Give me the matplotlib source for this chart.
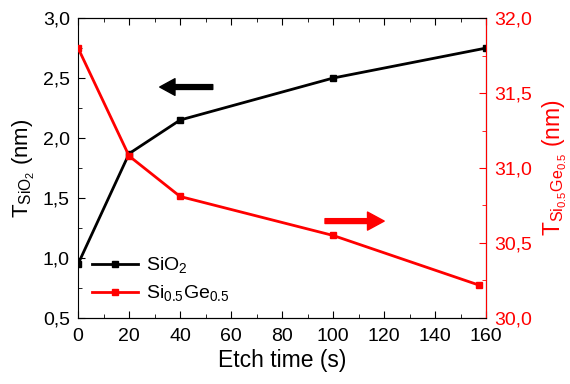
import matplotlib.pyplot as plt
from matplotlib.ticker import FuncFormatter, MultipleLocator

plt.rcParams['font.family'] = ['Liberation Sans', 'DejaVu Sans']
plt.rcParams['mathtext.fontset'] = 'custom'
plt.rcParams['mathtext.rm'] = 'Liberation Sans'

# etch time (s) and thicknesses (nm)
t_sio2 = [0, 20, 40, 100, 160]
sio2 = [0.95, 1.87, 2.15, 2.50, 2.75]
t_sige = [0, 20, 40, 100, 157]
sige = [31.80, 31.08, 30.81, 30.55, 30.22]

comma = FuncFormatter(lambda v, p: f"{v:.1f}".replace('.', ','))

fig = plt.figure(figsize=(5.7, 3.84), dpi=100)
ax = fig.add_axes([0.137, 0.172, 0.716, 0.781])
ax2 = ax.twinx()

l1, = ax.plot(t_sio2, sio2, color='black', marker='s', ms=5, lw=2, label='SiO$_2$')
l2, = ax2.plot(t_sige, sige, color='red', marker='s', ms=5, lw=2,
               label='Si$_{0.5}$Ge$_{0.5}$')

ax.set_xlim(0, 160)
ax.set_ylim(0.5, 3.0)
ax2.set_ylim(30.0, 32.0)

ax.xaxis.set_major_locator(MultipleLocator(20))
ax.xaxis.set_minor_locator(MultipleLocator(10))
ax.yaxis.set_major_locator(MultipleLocator(0.5))
ax.yaxis.set_minor_locator(MultipleLocator(0.25))
ax2.yaxis.set_major_locator(MultipleLocator(0.5))
ax2.yaxis.set_minor_locator(MultipleLocator(0.25))
ax.yaxis.set_major_formatter(comma)
ax2.yaxis.set_major_formatter(comma)

ax.tick_params(which='both', direction='in', top=True, labelsize=14, pad=6)
ax.tick_params(axis='x', pad=7)
ax.tick_params(which='major', length=5)
ax.tick_params(which='minor', length=3)
ax2.tick_params(which='both', direction='in', colors='red', labelsize=14, pad=6)
ax2.tick_params(which='major', length=5)
ax2.tick_params(which='minor', length=3)
ax2.spines['right'].set_color('red')
ax2.spines['left'].set_visible(False)

ax.set_xlabel('Etch time (s)', fontsize=16.5, labelpad=3)
ax.set_ylabel('T$_{\\mathregular{SiO_2}}$ (nm)', fontsize=16, labelpad=4)
ax2.set_ylabel('T$_{\\mathregular{Si_{0.5}Ge_{0.5}}}$ (nm)', fontsize=16.5,
               color='red', labelpad=6)

ax.legend([l1, l2], [l1.get_label(), l2.get_label()], loc='lower left',
          frameon=False, fontsize=14, handlelength=2.4, handletextpad=0.4,
          borderaxespad=0.3, labelspacing=0.4)

ax.annotate('', xy=(0.2, 0.77), xytext=(0.33, 0.77), xycoords='axes fraction',
            arrowprops=dict(width=3.5, headwidth=12, headlength=11, shrink=0,
                            color='black'))
ax.annotate('', xy=(0.75, 0.323), xytext=(0.605, 0.323), xycoords='axes fraction',
            arrowprops=dict(width=3.5, headwidth=13, headlength=12, shrink=0,
                            color='red'))

fig.savefig('out.png', dpi=100)
